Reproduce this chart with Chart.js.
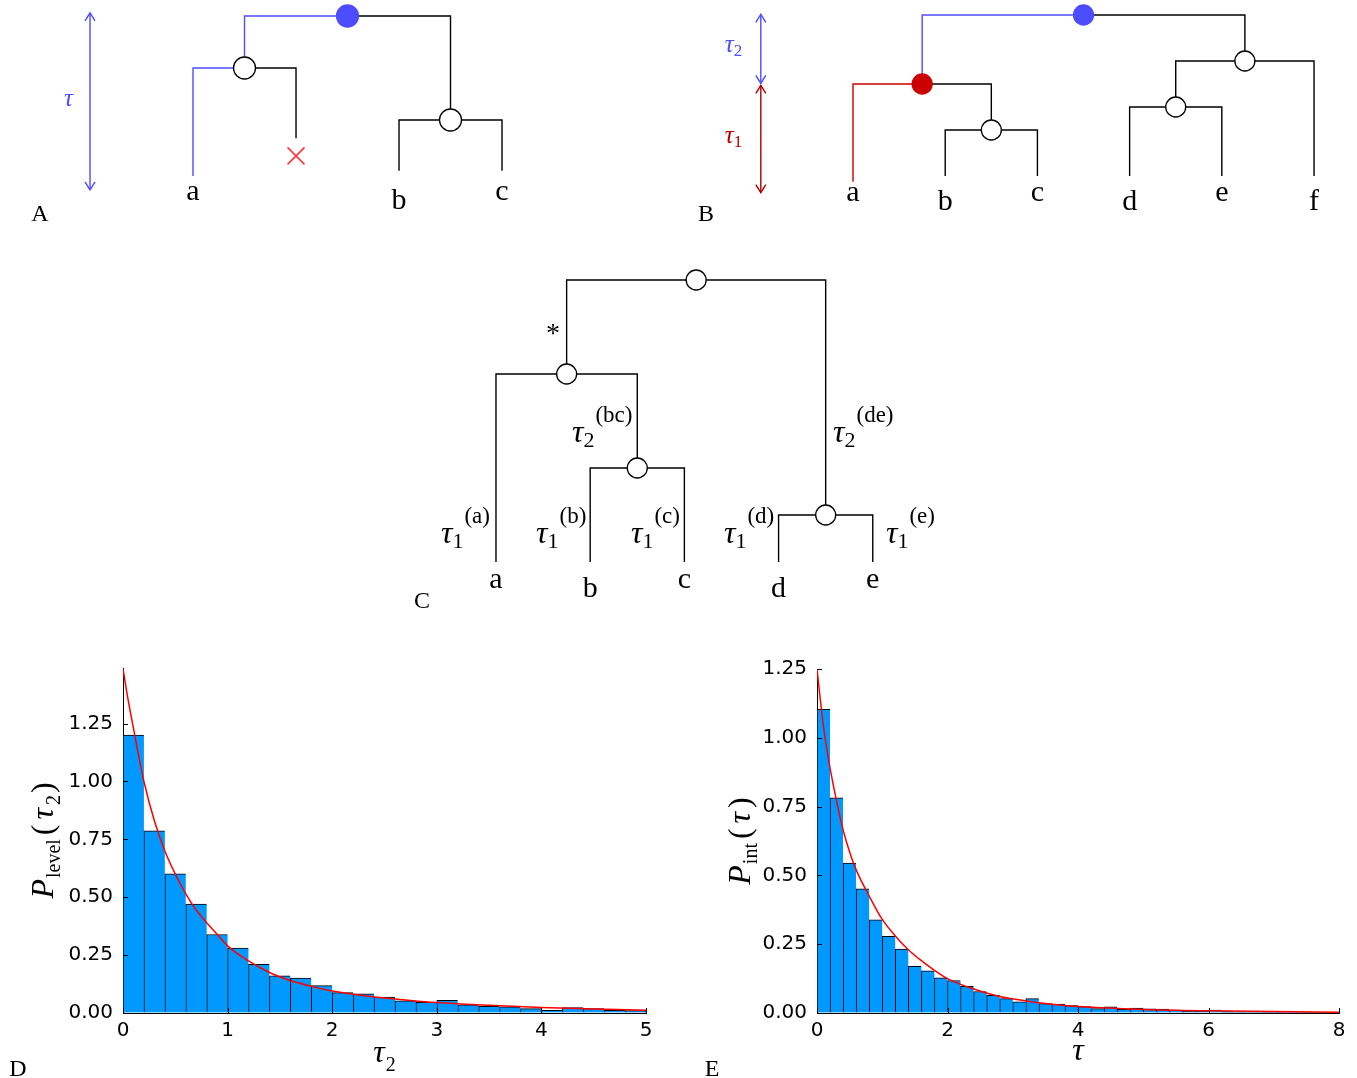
<!DOCTYPE html>
<html>
<head>
<meta charset="utf-8">
<script src="https://cdn.jsdelivr.net/npm/chart.js@4.4.1/dist/chart.umd.min.js"></script>
<style>
  html, body { margin: 0; padding: 0; background: #fff; }
  body { width: 1357px; height: 1078px; position: relative; overflow: hidden; }
  canvas { position: absolute; }
  .pl { position: absolute; font-family: "Liberation Serif", serif; font-size: 24px; line-height: 1; transform: translate(-50%, -50%); }
</style>
</head>
<body>
<canvas id="treeA" style="left:0;top:0" width="560" height="230"></canvas>
<canvas id="treeB" style="left:690px;top:0" width="667" height="230"></canvas>
<canvas id="treeC" style="left:400px;top:250px" width="560" height="370"></canvas>
<canvas id="histD" style="left:0;top:640px" width="680" height="438"></canvas>
<canvas id="histE" style="left:690px;top:640px" width="667" height="438"></canvas>
<div class="pl" style="left:40px;top:213px">A</div>
<div class="pl" style="left:706px;top:213px">B</div>
<div class="pl" style="left:422px;top:600px">C</div>
<div class="pl" style="left:18px;top:1068px">D</div>
<div class="pl" style="left:712px;top:1068px">E</div>
<script>
// Дерево A: x — порядок листьев, depth — время сверху вниз
const xA      = [1.5, 0.5, 2.5, 0, 1, 2, 3];
const depthA  = [0, 2, 4, 6.15, 4.7, 5.95, 5.95];
const parentA = [-1, 0, 0, 1, 1, 2, 2];
const branchA = [null, 'up', 'plain', 'up', 'plain', 'plain', 'plain'];
const nodeA   = ['up', 'open', 'open', null, null, null, null];
const leafA   = [null, null, null, 'a', null, 'b', 'c'];
const lostA   = [[1, 5.38]];
const spanA   = [[-1, -0.12, 6.69, 'up']];

// Дерево B
const xB      = [2.5, 4.25, 0.75, 3.5, 1.5, 0, 1, 2, 3, 4, 5];
const depthB  = [0, 2, 3, 4, 5, 7.25, 7, 7, 7, 7, 7];
const parentB = [-1, 0, 0, 1, 2, 2, 4, 4, 3, 3, 1];
const branchB = [null, 'plain', 'up', 'plain', 'plain', 'low', 'plain', 'plain', 'plain', 'plain', 'plain'];
const nodeB   = ['up', 'open', 'low', 'open', 'open', null, null, null, null, null, null];
const leafB   = [null, null, null, null, null, 'a', 'b', 'c', 'd', 'e', 'f'];
const spanB   = [[-1, -0.03, 2.97, 'up'], [-1, 3.06, 7.72, 'low']];

// Дерево C
const xC      = [2.125, 0.75, 1.5, 3.5, 0, 1, 2, 3, 4];
const depthC  = [0, 2, 4, 5, 6, 6, 6, 6, 6];
const parentC = [-1, 0, 1, 0, 1, 2, 2, 3, 3];
const nodeC   = ['open', 'open', 'open', 'open', null, null, null, null, null];
const leafC   = [null, null, null, null, 'a', 'b', 'c', 'd', 'e'];
// подписи ветвей: индекс снизу, индекс сверху
const tauC = [['2', '(bc)'], ['2', '(de)'], ['1', '(a)'], ['1', '(b)'], ['1', '(c)'], ['1', '(d)'], ['1', '(e)']];

// Гистограмма D (центры бинов шириной 0.2)
const binsD = [0.1, 0.3, 0.5, 0.7, 0.9, 1.1, 1.3, 1.5, 1.7, 1.9, 2.1, 2.3, 2.5, 2.7, 2.9,
               3.1, 3.3, 3.5, 3.7, 3.9, 4.1, 4.3, 4.5, 4.7, 4.9];
const histD = [1.200, 0.787, 0.601, 0.470, 0.339, 0.280, 0.210, 0.161, 0.151, 0.118, 0.088, 0.083, 0.069,
               0.053, 0.046, 0.055, 0.035, 0.029, 0.027, 0.019, 0.012, 0.023, 0.019, 0.012, 0.010];
const curveDx = [0, 0.05, 0.1, 0.15, 0.2, 0.3, 0.4, 0.5, 0.6, 0.7, 0.8, 0.9, 1.0, 1.2, 1.4, 1.6, 1.8,
                 2.0, 2.25, 2.5, 2.75, 3.0, 3.5, 4.0, 4.5, 5.0];
const curveDy = [1.486, 1.35, 1.23, 1.11, 1.0, 0.83, 0.70, 0.60, 0.515, 0.445, 0.39, 0.34, 0.29, 0.225,
                 0.175, 0.14, 0.115, 0.095, 0.078, 0.065, 0.054, 0.045, 0.033, 0.024, 0.017, 0.012];
const ticksDx = [0, 1, 2, 3, 4, 5];
const ticksDy = [0, 0.25, 0.5, 0.75, 1.0, 1.25];

// Гистограмма E
const binsE = [0.1, 0.3, 0.5, 0.7, 0.9, 1.1, 1.3, 1.5, 1.7, 1.9, 2.1, 2.3, 2.5, 2.7, 2.9, 3.1, 3.3, 3.5, 3.7, 3.9,
               4.1, 4.3, 4.5, 4.7, 4.9, 5.1, 5.3, 5.5, 5.7, 5.9, 6.1, 6.3, 6.5, 6.7, 6.9, 7.1, 7.3, 7.5, 7.7, 7.9];
const histE = [1.103, 0.782, 0.545, 0.451, 0.339, 0.279, 0.232, 0.170, 0.153, 0.128, 0.118, 0.097, 0.078, 0.064,
               0.052, 0.041, 0.052, 0.034, 0.032, 0.027, 0.023, 0.016, 0.022, 0.013, 0.018, 0.015, 0.014, 0.011,
               0.007, 0.007, 0.011, 0.005, 0.004, 0.004, 0.003, 0.003, 0.002, 0.002, 0.002, 0.001];
const curveEx = [0, 0.05, 0.1, 0.15, 0.2, 0.3, 0.4, 0.5, 0.6, 0.8, 1.0, 1.2, 1.4, 1.6, 1.8, 2.0, 2.4, 2.8,
                 3.2, 3.6, 4.0, 4.5, 5, 6, 7, 8];
const curveEy = [1.25, 1.14, 1.04, 0.96, 0.89, 0.77, 0.665, 0.585, 0.52, 0.425, 0.34, 0.28, 0.23, 0.19, 0.155,
                 0.125, 0.087, 0.06, 0.044, 0.032, 0.024, 0.018, 0.013, 0.008, 0.005, 0.003];
const ticksEx = [0, 2, 4, 6, 8];
const ticksEy = [0, 0.25, 0.5, 0.75, 1.0, 1.25];

// Стили
const BLUE = '#4d4dff';
const RED = '#cc0000';
const SERIF = '"Liberation Serif", "DejaVu Serif", serif';
const SANS = '"DejaVu Sans", sans-serif';
const it = s => `italic ${s}px ${SERIF}`;
const up = s => `${s}px ${SERIF}`;

function runsWidth(ctx, runs) {
    let w = 0;
    runs.forEach(r => {
        ctx.font = r.font;
        w += ctx.measureText(r.t).width + (r.gap || 0);
    });
    return w;
}

function drawRuns(ctx, x, y, runs) {
    let cx = x;
    runs.forEach(r => {
        ctx.font = r.font;
        ctx.fillText(r.t, cx, y + (r.dy || 0));
        cx += ctx.measureText(r.t).width + (r.gap || 0);
    });
}

// Подписи на дереве (в единицах дерева)
function textPlugin(items) {
    return {
        id: 'treeText',
        afterDatasetsDraw(chart) {
            const {ctx, scales: {x, y}} = chart;
            ctx.save();
            ctx.textBaseline = 'alphabetic';
            items.forEach(item => {
                let px = x.getPixelForValue(item.x);
                const py = y.getPixelForValue(item.y) + (item.oy || 0);
                if (item.center) px -= runsWidth(ctx, item.runs) / 2;
                ctx.fillStyle = item.color || '#000';
                drawRuns(ctx, px, py, item.runs);
            });
            ctx.restore();
        }
    };
}

// Стрелки с двумя наконечниками
const arrowPlugin = {
    id: 'arrowHeads',
    afterDatasetsDraw(chart) {
        const ctx = chart.ctx;
        chart.data.datasets.forEach((ds, i) => {
            if (!ds.arrow) return;
            const pts = chart.getDatasetMeta(i).data;
            ctx.save();
            ctx.strokeStyle = ds.borderColor;
            ctx.lineWidth = 1.4;
            [[pts[0], pts[1]], [pts[1], pts[0]]].forEach(([tip, from]) => {
                const s = Math.sign(from.y - tip.y);
                ctx.beginPath();
                ctx.moveTo(tip.x - 5, tip.y + s * 8);
                ctx.lineTo(tip.x, tip.y);
                ctx.lineTo(tip.x + 5, tip.y + s * 8);
                ctx.stroke();
            });
            ctx.restore();
        });
    }
};

function leafLabels(xs, depth, leaves, row) {
    const items = [];
    leaves.forEach((l, i) => {
        if (!l) return;
        items.push({x: xs[i], y: row, oy: /[bdf]/.test(l) ? 9 : 0, center: true,
                    runs: [{t: l, font: up(30)}]});
    });
    return items;
}

function buildTree(xs, depth, parent, branch, nodes, colours, radius) {
    const sets = [];
    const kinds = {};
    nodes.forEach((k, i) => {
        if (!k) return;
        (kinds[k] = kinds[k] || []).push({x: xs[i], y: depth[i]});
    });
    Object.keys(kinds).forEach(k => {
        const fill = k === 'open' ? '#fff' : colours[k];
        sets.push({
            data: kinds[k], order: 0, pointRadius: radius, pointStyle: 'circle',
            backgroundColor: fill, borderColor: k === 'open' ? '#000' : fill,
            pointBackgroundColor: fill, pointBorderColor: k === 'open' ? '#000' : fill,
            pointBorderWidth: 1.3
        });
    });
    parent.forEach((p, i) => {
        if (p < 0) return;
        const c = colours[branch ? branch[i] : 'plain'];
        sets.push({
            data: [{x: xs[i], y: depth[i]}, {x: xs[i], y: depth[p]}, {x: xs[p], y: depth[p]}],
            showLine: true, order: 2, borderColor: c, borderWidth: 1.4, pointRadius: 0, tension: 0
        });
    });
    return sets;
}

function spanSets(spans, colours) {
    return spans.map(s => ({
        data: [{x: s[0], y: s[1]}, {x: s[0], y: s[2]}],
        showLine: true, arrow: true, order: 1, borderColor: colours[s[3]], borderWidth: 1.4, pointRadius: 0
    }));
}

function treeChart(id, xr, yr, datasets, items) {
    return new Chart(document.getElementById(id), {
        type: 'scatter',
        data: {datasets: datasets},
        options: {
            responsive: false,
            animation: false,
            devicePixelRatio: 1,
            events: [],
            layout: {padding: 0, autoPadding: false},
            clip: false,
            scales: {
                x: {type: 'linear', display: false, min: xr[0], max: xr[1]},
                y: {type: 'linear', display: false, min: yr[0], max: yr[1], reverse: true}
            },
            plugins: {legend: {display: false}, tooltip: {enabled: false}}
        },
        plugins: [arrowPlugin, textPlugin(items)]
    });
}

// Панель A
const coloursA = {up: BLUE, plain: '#000'};
const setsA = buildTree(xA, depthA, parentA, branchA, nodeA, coloursA, 11)
    .concat(spanSets(spanA, coloursA))
    .concat([{
        data: lostA.map(p => ({x: p[0], y: p[1]})), order: 0, pointStyle: 'crossRot', pointRadius: 12,
        borderColor: '#ff3333', pointBorderColor: '#ff3333', pointBorderWidth: 1.5
    }]);
treeChart('treeA', [-1.874, 3.563], [-0.615, 8.23], setsA,
    leafLabels(xA, depthA, leafA, 7.08).concat([
        {x: -1.21, y: 3.46, center: true, color: BLUE, runs: [{t: 'τ', font: it(25)}]}
    ]));

// Панель B
const coloursB = {up: BLUE, low: RED, plain: '#000'};
const setsB = buildTree(xB, depthB, parentB, branchB, nodeB, coloursB, 10)
    .concat(spanSets(spanB, {up: BLUE, low: '#b00000'}));
treeChart('treeB', [-1.768, 5.466], [-0.652, 9.348], setsB,
    leafLabels(xB, depthB, leafB, 8.09).concat([
        {x: -1.39, y: 1.61, color: BLUE, runs: [{t: 'τ', font: it(25)}, {t: '2', font: up(17), dy: 4}]},
        {x: -1.39, y: 5.57, color: '#bb0000', runs: [{t: 'τ', font: it(25)}, {t: '1', font: up(17), dy: 4}]}
    ]));

// Панель C
const tauPosC = [[0.807, 3.447], [3.578, 3.447], [-0.584, 5.596], [0.425, 5.596],
                 [1.433, 5.596], [2.42, 5.596], [4.14, 5.596]];
const setsC = buildTree(xC, depthC, parentC, null, nodeC, {plain: '#000'}, 10);
treeChart('treeC', [-1.019, 4.926], [-0.638, 7.234], setsC,
    leafLabels(xC, depthC, leafC, 6.553)
        .concat([{x: 0.605, y: 1.32, center: true, runs: [{t: '*', font: up(28)}]}])
        .concat(tauC.map((t, i) => ({
            x: tauPosC[i][0], y: tauPosC[i][1],
            runs: [{t: 'τ', font: it(32)}, {t: t[0], font: up(22), dy: 5, gap: 1}, {t: t[1], font: up(23), dy: -20}]
        }))));

// Гистограммы
const inTicks = {
    id: 'inTicks',
    afterDraw(chart) {
        const {ctx, chartArea, scales: {x, y}} = chart;
        ctx.save();
        ctx.strokeStyle = '#000';
        ctx.lineWidth = 1;
        ctx.beginPath();
        x.ticks.forEach(t => {
            const px = Math.round(x.getPixelForValue(t.value)) + 0.5;
            ctx.moveTo(px, chartArea.bottom);
            ctx.lineTo(px, chartArea.bottom - 5);
        });
        y.ticks.forEach(t => {
            const py = Math.round(y.getPixelForValue(t.value)) + 0.5;
            ctx.moveTo(chartArea.left, py);
            ctx.lineTo(chartArea.left + 5, py);
        });
        ctx.stroke();
        ctx.restore();
    }
};

function titlePlugin(yRuns, yBase, xRuns, xBase) {
    return {
        id: 'mathTitles',
        afterDraw(chart) {
            const {ctx, chartArea} = chart;
            ctx.save();
            ctx.fillStyle = '#000';
            ctx.textBaseline = 'alphabetic';
            const cy = (chartArea.top + chartArea.bottom) / 2;
            ctx.translate(yBase, cy);
            ctx.rotate(-Math.PI / 2);
            drawRuns(ctx, -runsWidth(ctx, yRuns) / 2, 0, yRuns);
            ctx.restore();
            ctx.save();
            ctx.fillStyle = '#000';
            ctx.textBaseline = 'alphabetic';
            const cx = (chartArea.left + chartArea.right) / 2;
            drawRuns(ctx, cx - runsWidth(ctx, xRuns) / 2, xBase, xRuns);
            ctx.restore();
        }
    };
}

function histChart(id, bins, heights, cx, cy, xTicks, yTicks, yMax, axisW, pad, titles) {
    const n = bins.length;
    return new Chart(document.getElementById(id), {
        type: 'bar',
        data: {
            datasets: [{
                type: 'line',
                data: cx.map((x, i) => ({x: x, y: cy[i]})),
                borderColor: '#ff0000',
                borderWidth: 1.5,
                pointRadius: 0,
                cubicInterpolationMode: 'monotone',
                order: 0
            }, {
                type: 'bar',
                data: bins.map((x, i) => ({x: x, y: heights[i]})),
                backgroundColor: '#0099ff',
                borderColor: '#000',
                borderWidth: c => c.dataIndex === n - 1 ? {top: 1, left: 1, right: 1, bottom: 0}
                                                         : {top: 1, left: 1, right: 0, bottom: 0},
                borderSkipped: false,
                barPercentage: 1,
                categoryPercentage: 1,
                order: 1
            }]
        },
        options: {
            responsive: false,
            animation: false,
            devicePixelRatio: 1,
            events: [],
            layout: {padding: pad, autoPadding: false},
            scales: {
                x: {
                    type: 'linear', offset: false,
                    min: xTicks[0], max: xTicks[xTicks.length - 1],
                    afterBuildTicks: s => { s.ticks = xTicks.map(v => ({value: v})); },
                    grid: {offset: false, drawOnChartArea: false, drawTicks: false},
                    border: {color: '#000', width: 1},
                    ticks: {color: '#000', font: {family: SANS, size: 20}, padding: 6, maxRotation: 0},
                    afterFit: s => { s.height = 65; }
                },
                y: {
                    type: 'linear', min: 0, max: yMax,
                    afterBuildTicks: s => { s.ticks = yTicks.map(v => ({value: v})); },
                    grid: {drawOnChartArea: false, drawTicks: false},
                    border: {color: '#000', width: 1},
                    ticks: {color: '#000', font: {family: SANS, size: 20}, padding: 10,
                            callback: v => v.toFixed(2)},
                    afterFit: s => { s.width = axisW; }
                }
            },
            plugins: {legend: {display: false}, tooltip: {enabled: false}}
        },
        plugins: [inTicks, titles]
    });
}

histChart('histD', binsD, histD, curveDx, curveDy, ticksDx, ticksDy, 1.49, 123,
    {top: 28, right: 34, left: 0, bottom: 0},
    titlePlugin([
        {t: 'P', font: it(32), gap: 1},
        {t: 'level', font: up(20), dy: 7, gap: 4},
        {t: '(', font: up(32), gap: 5},
        {t: 'τ', font: it(32), gap: 3},
        {t: '2', font: up(20), dy: 7, gap: 2},
        {t: ')', font: up(32)}
    ], 53, [{t: 'τ', font: it(32), gap: 1}, {t: '2', font: up(20), dy: 9}], 422));

histChart('histE', binsE, histE, curveEx, curveEy, ticksEx, ticksEy, 1.25, 127,
    {top: 29, right: 18, left: 0, bottom: 0},
    titlePlugin([
        {t: 'P', font: it(32), gap: 1},
        {t: 'int', font: up(20), dy: 7, gap: 4},
        {t: '(', font: up(32), gap: 5},
        {t: 'τ', font: it(32), gap: 4},
        {t: ')', font: up(32)}
    ], 60, [{t: 'τ', font: it(32)}], 420));
</script>
</body>
</html>
